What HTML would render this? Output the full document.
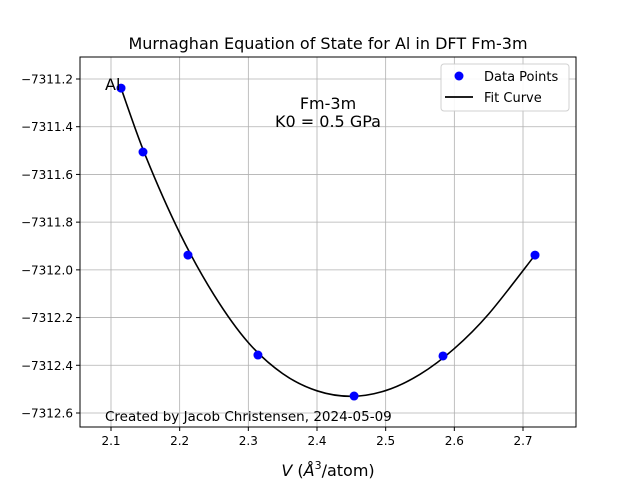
<!DOCTYPE html>
<html><head><meta charset="utf-8"><style>
body{margin:0;background:#fff;}
svg{font-family:"DejaVu Sans","Liberation Sans",sans-serif;}
</style></head><body>
<svg id="chart" width="640" height="480" viewBox="0 0 640 480">
<rect width="640" height="480" fill="#fff"/>
<g id="grid"></g>
<g id="axes"></g>
<g id="marks"></g>
<text x="328" y="49" text-anchor="middle" font-size="16">Murnaghan Equation of State for Al in DFT Fm-3m</text>
<text x="328" y="476" text-anchor="middle" font-size="16"><tspan font-style="italic">V</tspan> (<tspan font-style="italic">Å</tspan><tspan dy="-7" font-size="11">3</tspan><tspan dy="7">/atom)</tspan></text>
<text transform="translate(-6,242) rotate(-90)" text-anchor="middle" font-size="16"><tspan font-style="italic">E</tspan> (eV/atom)</text>
<text x="105" y="90" font-size="16">Al</text>
<text x="328" y="109" text-anchor="middle" font-size="16">Fm-3m</text>
<text x="328" y="127" text-anchor="middle" font-size="16">K0 = 0.5 GPa</text>
<text x="105" y="421" font-size="13.5">Created by Jacob Christensen, 2024-05-09</text>
<g>
<rect x="441" y="64" width="128" height="47" rx="3" fill="#fff" stroke="#ccc" opacity="0.9"/>
<circle cx="459" cy="76" r="4.5" fill="#0000ff"/>
<text x="484" y="81" font-size="13">Data Points</text>
<line x1="445" y1="97" x2="473" y2="97" stroke="#000" stroke-width="1.8"/>
<text x="484" y="102" font-size="13">Fit Curve</text>
</g>
</svg>
<script>
const dataV=[2.1146,2.1466,2.2121,2.314,2.454,2.5835,2.7175];
const dataE=[-7311.238,-7311.506,-7311.938,-7312.357,-7312.529,-7312.361,-7311.938];
const fitV=[2.1146,2.15,2.20,2.25,2.30,2.35,2.40,2.45,2.50,2.55,2.60,2.65,2.7175];
const fitE=[-7311.238,-7311.52,-7311.845,-7312.105,-7312.305,-7312.435,-7312.507,-7312.53,-7312.506,-7312.438,-7312.330,-7312.185,-7311.938];
const xTicks=[2.1,2.2,2.3,2.4,2.5,2.6,2.7];
const yTicks=[-7311.2,-7311.4,-7311.6,-7311.8,-7312.0,-7312.2,-7312.4,-7312.6];
const L=80,R=576,T=57,B=427;
const sx=v=>111+(v-2.1)*686.67;
const sy=e=>79+(-7311.2-e)*1670/7;
const NS="http://www.w3.org/2000/svg";
function mk(tag,attrs,parent){const el=document.createElementNS(NS,tag);for(const k in attrs)el.setAttribute(k,attrs[k]);parent.appendChild(el);return el;}
const grid=document.getElementById('grid'),axes=document.getElementById('axes'),marks=document.getElementById('marks');
xTicks.forEach(t=>{const x=sx(t);
const g=mk('line',{x1:x,x2:x,y1:T,y2:B,stroke:'#b0b0b0','stroke-width':0.8},grid);


mk('line',{x1:x,x2:x,y1:B,y2:B+4,stroke:'#000'},axes);
const tx=mk('text',{x:x,y:B+18,'text-anchor':'middle','font-size':12},axes);tx.textContent=t.toFixed(1);

});
yTicks.forEach(t=>{const y=sy(t);
const g=mk('line',{x1:L,x2:R,y1:y,y2:y,stroke:'#b0b0b0','stroke-width':0.8},grid);


mk('line',{x1:L-4,x2:L,y1:y,y2:y,stroke:'#000'},axes);
const tx=mk('text',{x:L-7,y:y+4.5,'text-anchor':'end','font-size':12},axes);tx.textContent='\u2212'+Math.abs(t).toFixed(1);

});
const fr=mk('rect',{x:L,y:T,width:R-L,height:B-T,fill:'none',stroke:'#000','stroke-width':1},axes);


const P=fitV.map((v,i)=>[sx(v),sy(fitE[i])]);
let d='M'+P[0][0]+','+P[0][1];
for(let i=0;i<P.length-1;i++){const p0=P[Math.max(0,i-1)],p1=P[i],p2=P[i+1],p3=P[Math.min(P.length-1,i+2)];
const c1=[p1[0]+(p2[0]-p0[0])/6,p1[1]+(p2[1]-p0[1])/6],c2=[p2[0]-(p3[0]-p1[0])/6,p2[1]-(p3[1]-p1[1])/6];
d+=' C'+c1+' '+c2+' '+p2;}
const path=mk('path',{d:d,fill:'none',stroke:'#000','stroke-width':1.6},marks);


dataV.forEach((v,i)=>{const c=mk('circle',{cx:sx(v),cy:sy(dataE[i]),r:4.5,fill:'#0000ff'},marks);

});
</script>
</body></html>
